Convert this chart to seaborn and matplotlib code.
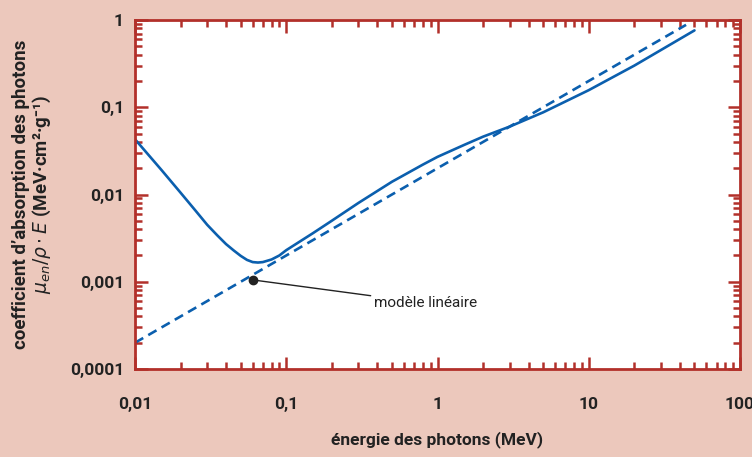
import numpy as np
import pandas as pd
import seaborn as sns
import matplotlib.pyplot as plt
from matplotlib.ticker import FixedLocator, LogLocator, NullFormatter

energie = [0.01, 0.015, 0.02, 0.025, 0.03, 0.035, 0.04, 0.045, 0.05, 0.055,
           0.06, 0.065, 0.07, 0.08, 0.09, 0.1, 0.15, 0.2, 0.3, 0.5, 0.8, 1,
           1.5, 2, 3, 5, 10, 20, 50]
coef = [0.043, 0.019, 0.0105, 0.0066, 0.0045, 0.0034, 0.0027, 0.00228,
        0.00198, 0.00178, 0.00168, 0.00166, 0.00168, 0.00180, 0.00200,
        0.0023, 0.0036, 0.0050, 0.0080, 0.014, 0.022, 0.027, 0.037, 0.046,
        0.060, 0.0875, 0.157, 0.30, 0.76]

# modele lineaire
energie_lin = [0.01, 44]
coef_lin = [0.0002, 0.88]

xticks = [0.01, 0.1, 1, 10, 100]
xlabels = ['0,01', '0,1', '1', '10', '100']
yticks = [0.0001, 0.001, 0.01, 0.1, 1]
ylabels = ['0,0001', '0,001', '0,01', '0,1', '1']

bleu = '#0b5fae'
rouge = '#b2302a'
fond = '#ecc8bc'
texte = '#222222'

sns.set_style('ticks')
plt.rcParams['font.family'] = ['Roboto', 'DejaVu Sans']

fig, ax = plt.subplots(figsize=(7.52, 4.57), dpi=100)
fig.patch.set_facecolor(fond)
ax.set_facecolor('white')
fig.subplots_adjust(left=135/752, right=740/752, top=1-20/457, bottom=1-369/457)

df = pd.DataFrame({'E': energie, 'c': coef})
df_lin = pd.DataFrame({'E': energie_lin, 'c': coef_lin})
sns.lineplot(data=df, x='E', y='c', ax=ax, color=bleu, lw=1.9)
sns.lineplot(data=df_lin, x='E', y='c', ax=ax, color=bleu, lw=1.9,
             linestyle=(0, (3.6, 2.2)))

ax.set_xscale('log')
ax.set_yscale('log')
ax.set_xlim(0.01, 100)
ax.set_ylim(0.0001, 1)

ax.xaxis.set_major_locator(FixedLocator(xticks))
ax.set_xticklabels(xlabels)
ax.yaxis.set_major_locator(FixedLocator(yticks))
ax.set_yticklabels(ylabels)
ax.xaxis.set_minor_locator(LogLocator(base=10, subs=np.arange(2, 10)))
ax.yaxis.set_minor_locator(LogLocator(base=10, subs=np.arange(2, 10)))
ax.xaxis.set_minor_formatter(NullFormatter())
ax.yaxis.set_minor_formatter(NullFormatter())

for s in ax.spines.values():
    s.set_visible(True)
    s.set_color(rouge)
    s.set_linewidth(2)
ax.tick_params(which='both', direction='in', top=True, right=True,
               color=rouge, width=1.8)
ax.tick_params(which='major', length=9)
ax.tick_params(which='minor', length=5)
ax.tick_params(axis='x', which='major', pad=20, labelsize=12.5, labelcolor=texte)
ax.tick_params(axis='y', which='major', pad=8, labelsize=12.5, labelcolor=texte)
for lab in ax.get_xticklabels() + ax.get_yticklabels():
    lab.set_fontweight('bold')

ax.set_xlabel('énergie des photons (MeV)', fontsize=12.5, fontweight='bold',
              color=texte, labelpad=14)
ax.set_ylabel('coefficient d\u2019absorption des photons\n'
              '$\\mu_{en}/\\rho\\cdot E$ (MeV\u00b7cm\u00b2\u00b7g\u207b\u00b9)',
              fontsize=13.5, fontweight='bold', color=texte, labelpad=12,
              linespacing=1.05)

# annotation du modele
ax.plot([0.06], [0.00105], 'o', color=texte, ms=6, zorder=5)
ax.annotate('modèle linéaire', xy=(0.06, 0.00105), xytext=(0.38, 0.00057),
            va='center', ha='left', fontsize=11, color=texte,
            arrowprops=dict(arrowstyle='-', color=texte, lw=1,
                            shrinkA=0, shrinkB=0))

plt.savefig('out.png', dpi=100, facecolor=fond)
